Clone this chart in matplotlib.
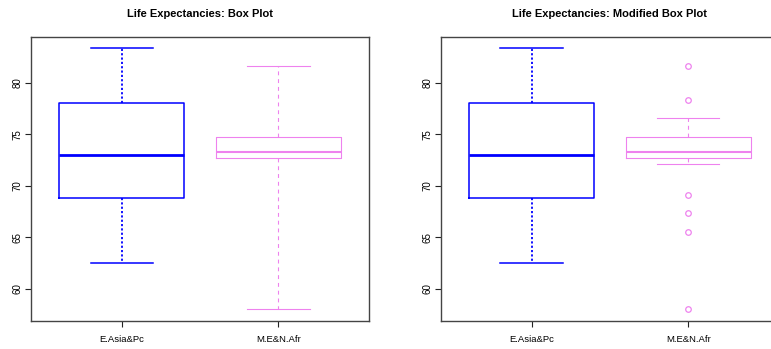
import matplotlib
matplotlib.use("Agg")
import matplotlib.pyplot as plt

plt.rcParams['font.family'] = ['Liberation Sans', 'DejaVu Sans']

categories = ["E.Asia&Pc", "M.E&N.Afr"]
colors = ["#0000FF", "#EE82EE"]

# five-number summaries
q1 = [68.77, 72.71]
med = [72.97, 73.29]
q3 = [78.05, 74.77]
# plain box plot: whiskers to extremes
whislo_plain = [62.50, 57.97]
whishi_plain = [83.40, 81.68]
# modified box plot: whiskers to 1.5 IQR, outliers shown
whislo_mod = [62.50, 72.16]
whishi_mod = [83.40, 76.55]
fliers_mod = [[], [81.68, 78.39, 69.06, 67.32, 65.52, 57.97]]

titles = ["Life Expectancies: Box Plot", "Life Expectancies: Modified Box Plot"]
yticks = [60, 65, 70, 75, 80]

fig = plt.figure(figsize=(7.71, 3.49), dpi=100)
W = 771.0
H = 349.0
ax_w = 338.3 / W
ax_h = (320.7 - 36.7) / H
bottom = 1 - 320.7 / H
axes = [fig.add_axes([31.0 / W, bottom, ax_w, ax_h]),
        fig.add_axes([440.7 / W, bottom, ax_w, ax_h])]

whisker_styles = [dict(lw=1.3, ls=(0, (1.2, 1.2))), dict(lw=0.8, ls=(0, (3.5, 3.5)))]
line_w = [1.1, 0.8]
med_w = [2.0, 1.5]

for k, ax in enumerate(axes):
    lo = whislo_plain if k == 0 else whislo_mod
    hi = whishi_plain if k == 0 else whishi_mod
    for i in range(len(categories)):
        st = dict(med=med[i], q1=q1[i], q3=q3[i], whislo=lo[i], whishi=hi[i],
                  fliers=(fliers_mod[i] if k == 1 else []), label=categories[i])
        c = colors[i]
        ax.bxp([st], positions=[i + 1], widths=0.8, showfliers=True,
               boxprops=dict(color=c, lw=line_w[i]),
               medianprops=dict(color=c, lw=med_w[i]),
               whiskerprops=dict(color=c, lw=whisker_styles[i]['lw'], ls=whisker_styles[i]['ls']),
               capprops=dict(color=c, lw=line_w[i]),
               flierprops=dict(marker='o', markerfacecolor='none', markeredgecolor=c,
                               markersize=4, markeredgewidth=0.9, linestyle='none'),
               capwidths=0.4)
    ax.set_xlim(0.42, 2.58)
    ax.set_ylim(56.88, 84.5)
    ax.set_xticks([1, 2])
    ax.set_xticklabels(categories, fontsize=6.8)
    ax.set_yticks(yticks)
    ax.set_yticklabels([str(v) for v in yticks], fontsize=7, rotation=90, va='center')
    ax.tick_params(axis='both', direction='out', length=4, width=0.8, color='#222222')
    ax.tick_params(axis='x', pad=6)
    ax.tick_params(axis='y', pad=2)
    for s in ax.spines.values():
        s.set_color('#444444')
        s.set_linewidth(1.0)
    ax.set_title(titles[k], fontsize=8, fontweight='bold', pad=14)

fig.savefig("out.png", dpi=100)
